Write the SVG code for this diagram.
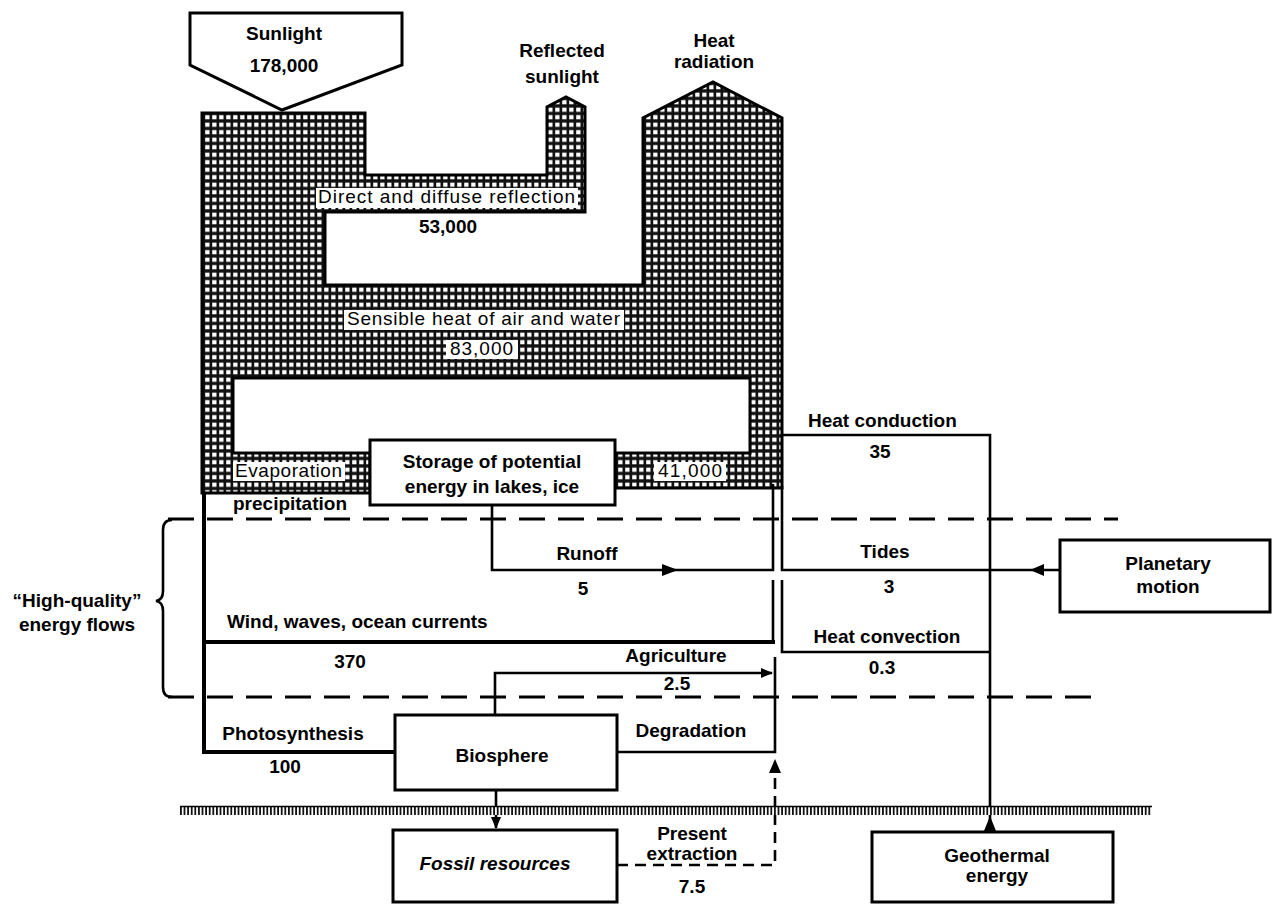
<svg xmlns="http://www.w3.org/2000/svg" width="1272" height="905" viewBox="0 0 1272 905">
<defs>
<pattern id="hatch" width="7" height="7.5" patternUnits="userSpaceOnUse">
<rect width="7" height="7.5" fill="#111"/>
<rect x="2.2" y="2.6" width="4.3" height="4.2" fill="#fff"/>
</pattern>
<pattern id="ground" width="3.6" height="10" patternUnits="userSpaceOnUse">
<rect width="3.6" height="10" fill="#fff"/>
<rect width="1.8" height="10" fill="#111"/>
</pattern>
<marker id="ah" viewBox="0 0 12 10" refX="11" refY="5" markerWidth="13" markerHeight="10" markerUnits="userSpaceOnUse" orient="auto">
<path d="M0,0 L12,5 L0,10 z" fill="#000"/>
</marker>
</defs>
<style>
.b{font-family:"Liberation Sans",Arial,sans-serif;font-weight:bold;font-size:19px;fill:#000}
.r{font-family:"Liberation Sans",Arial,sans-serif;font-weight:normal;font-size:19px;fill:#000}
.m{text-anchor:middle}
.box{fill:#fff;stroke:#000;stroke-width:3}
.ln{fill:none;stroke:#000;stroke-width:2.6}
.thick{fill:none;stroke:#000;stroke-width:4}
.dash{fill:none;stroke:#000;stroke-width:3;stroke-dasharray:26 13}
.dsh2{fill:none;stroke:#000;stroke-width:2.6;stroke-dasharray:11 7}
.kn{fill:#fff}
</style>
<rect width="1272" height="905" fill="#fff"/>

<g id="earth-energy-flows">
<path d="M202,113 H365 V175 H547 V107 L566,97 L585,107 V212 H325 V285 H643 V118 L713,82 L782,118 V488 H615 V453 H750 V378 H233 V453 H370 V493 H202 Z" fill="url(#hatch)" stroke="#000" stroke-width="3"/>
<rect class="kn" x="316" y="188" width="262" height="20"/>
<rect class="kn" x="344" y="310" width="280" height="20"/>
<rect class="kn" x="446" y="340" width="72" height="19"/>
<rect class="kn" x="233" y="462" width="112" height="19"/>
<rect class="kn" x="654" y="462" width="72" height="19"/>
<text class="r" x="318" y="203" textLength="257">Direct and diffuse reflection</text>
<text class="b m" x="448" y="233">53,000</text>
<text class="r" x="347" y="325" textLength="273">Sensible heat of air and water</text>
<text class="r" x="450" y="355" textLength="63">83,000</text>
<text class="r" x="235" y="477" textLength="107">Evaporation</text>
<text class="r" x="658" y="477" textLength="64">41,000</text>
</g>

<g id="sunlight">
<path class="box" d="M190,13 H402 V65 L282,110 L190,65 Z"/>
<text class="b m" x="284" y="40">Sunlight</text>
<text class="b m" x="284" y="72">178,000</text>
</g>

<g id="reflected-sunlight">
<text class="b m" x="562" y="57">Reflected</text>
<text class="b m" x="562" y="83">sunlight</text>
</g>

<g id="heat-radiation">
<text class="b m" x="714" y="47">Heat</text>
<text class="b m" x="714" y="68">radiation</text>
</g>

<g id="connectors">
<path class="dash" d="M168,519 H1118"/>
<path class="dash" d="M168,697 H1100"/>
<path class="ln" d="M172,520 Q163,520 163,530 V591 Q163,600 156,601 Q163,602 163,611 V687 Q163,697 172,697"/>
<path class="thick" d="M204,493 V752 H395"/>
<path class="thick" d="M204,642 H775"/>
<path class="ln" d="M492,505 V570 H773 V484"/>
<polygon points="678,570 662,564 662,576"/>
<path class="ln" d="M773,580 V642"/>
<path class="ln" d="M1060,570 H782 V486"/>
<polygon points="1030,570 1044,564 1044,576"/>
<path class="ln" d="M782,580 V652 H990"/>
<path class="ln" d="M782,435 H990 V830"/>
<polygon points="990,816 984,831 996,831"/>
<path class="ln" d="M495,715 V673 H772" marker-end="url(#ah)"/>
<path class="ln" d="M617,752 H775 V657"/>
<path class="ln" d="M496,790 V828" marker-end="url(#ah)"/>
<path class="dsh2" d="M617,865 H775 V764"/>
<polygon points="775,759 769,773 781,773"/>
<rect x="180" y="806" width="972" height="9" fill="url(#ground)"/>
<path d="M180,806.5 H1152" stroke="#000" stroke-width="1.5"/>
</g>

<g id="flow-labels">
<text class="b" x="233" y="510">precipitation</text>
<text class="b" x="808" y="427">Heat conduction</text>
<text class="b m" x="880" y="458">35</text>
<text class="b m" x="587" y="560">Runoff</text>
<text class="b m" x="583" y="595">5</text>
<text class="b m" x="885" y="558">Tides</text>
<text class="b m" x="889" y="593">3</text>
<text class="b m" x="887" y="643">Heat convection</text>
<text class="b m" x="882" y="674">0.3</text>
<text class="b" x="227" y="628">Wind, waves, ocean currents</text>
<text class="b m" x="350" y="668">370</text>
<text class="b m" x="676" y="662">Agriculture</text>
<text class="b m" x="677" y="690">2.5</text>
<text class="b m" x="691" y="737">Degradation</text>
<text class="b m" x="293" y="740">Photosynthesis</text>
<text class="b m" x="285" y="773">100</text>
<text class="b m" x="692" y="840">Present</text>
<text class="b m" x="692" y="860">extraction</text>
<text class="b m" x="692" y="893">7.5</text>
</g>

<g id="high-quality-label">
<text class="b m" x="77" y="607">“High-quality”</text>
<text class="b m" x="77" y="631">energy flows</text>
</g>

<g id="storage">
<rect class="box" x="370" y="440" width="245" height="65"/>
<text class="b m" x="492" y="468">Storage of potential</text>
<text class="b m" x="492" y="493">energy in lakes, ice</text>
</g>

<g id="planetary-motion">
<rect class="box" x="1060" y="540" width="210" height="72"/>
<text class="b m" x="1168" y="570">Planetary</text>
<text class="b m" x="1168" y="593">motion</text>
</g>

<g id="biosphere">
<rect class="box" x="395" y="715" width="222" height="75"/>
<text class="b m" x="502" y="762">Biosphere</text>
</g>

<g id="fossil-resources">
<rect class="box" x="393" y="830" width="224" height="72"/>
<text class="b m" x="495" y="870" font-style="italic">Fossil resources</text>
</g>

<g id="geothermal-energy">
<rect class="box" x="872" y="832" width="241" height="70"/>
<text class="b m" x="997" y="862">Geothermal</text>
<text class="b m" x="997" y="882">energy</text>
</g>
</svg>
